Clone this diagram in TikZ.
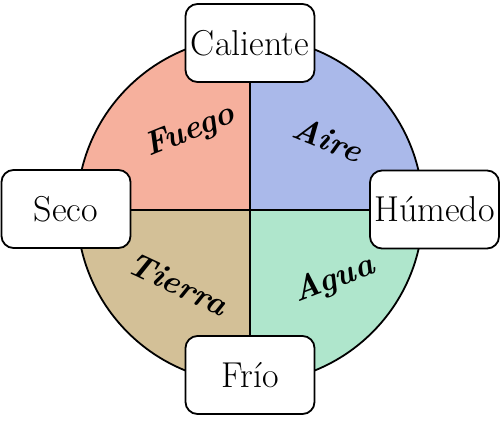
\documentclass[tikz,border=0pt]{standalone}
\usepackage{fontspec}
\definecolor{fuego}{HTML}{F6B09D}
\definecolor{aire}{HTML}{AAB9EA}
\definecolor{tierra}{HTML}{D3C097}
\definecolor{agua}{HTML}{AFE6CC}
\tikzset{
  qbox/.style={draw, fill=white, rounded corners=12pt, minimum width=129pt, minimum height=78pt, inner sep=0pt, line width=1.8pt, font=\fontsize{36}{36}\selectfont},
  elem/.style={font=\fontsize{33}{33}\selectfont\bfseries\itshape, inner sep=0pt}
}
\begin{document}
\begin{tikzpicture}[x=1pt,y=-1pt,line width=1.8pt]
\useasboundingbox (0,0) rectangle (500,420);
\coordinate (c) at (250,210);
\begin{scope}
  \clip (c) circle[radius=173pt];
  \fill[fuego] (c) rectangle (60,20);
  \fill[aire] (c) rectangle (440,20);
  \fill[tierra] (c) rectangle (60,400);
  \fill[agua] (c) rectangle (440,400);
\end{scope}
\draw (c) circle[radius=173pt];
\draw (250,37) -- (250,383);
\draw (77,210) -- (423,210);
\node[qbox] (cal) at (250,43) {Caliente};
\node[qbox] (frio) at (250,375) {Frío};
\node[qbox] (seco) at (66,209) {Seco};
\node[qbox] (hum) at (434.5,209.5) {Húmedo};
\node[elem, rotate=22] (fuegot) at (190,132) {Fuego};
\node[elem, rotate=-22] (airet) at (328,139) {Aire};
\node[elem, rotate=-25] (tierrat) at (178,284) {Tierra};
\node[elem, rotate=21] (aguat) at (334,280) {Agua};
\end{tikzpicture}
\end{document}
